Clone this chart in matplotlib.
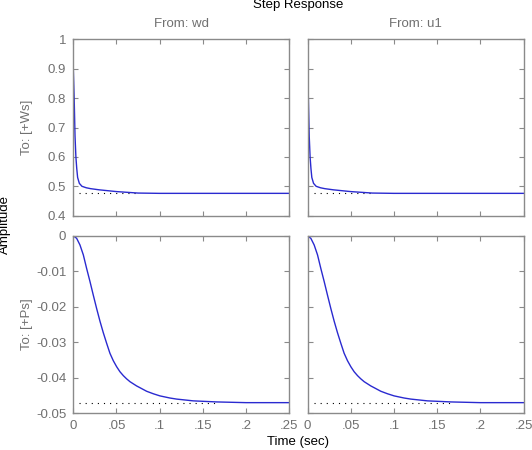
import numpy as np
import matplotlib
matplotlib.use('Agg')
import matplotlib.pyplot as plt

plt.rcParams['font.family'] = ['Liberation Sans', 'DejaVu Sans']

# step response (same for both inputs)
t_ws = [0, 0.0005, 0.001, 0.002, 0.003, 0.004, 0.005, 0.007, 0.01, 0.015, 0.02,
        0.03, 0.04, 0.05, 0.06, 0.075, 0.1, 0.25]
y_ws = [0.90, 0.85, 0.80, 0.67, 0.60, 0.56, 0.53, 0.51, 0.50, 0.495, 0.492,
        0.488, 0.485, 0.482, 0.480, 0.477, 0.476, 0.476]

t_ps = [0, 0.0039, 0.0077, 0.0116, 0.0154, 0.0193, 0.0231, 0.027, 0.0309, 0.0347,
        0.0386, 0.0424, 0.0463, 0.0502, 0.054, 0.0579, 0.0617, 0.0656, 0.0733,
        0.0772, 0.0849, 0.0926, 0.1003, 0.1119, 0.1196, 0.1389, 0.166, 0.2, 0.25]
y_ps = [0, -0.00075, -0.0026, -0.0054, -0.0092, -0.0129, -0.0167, -0.0205,
        -0.0241, -0.0273, -0.0303, -0.0331, -0.0352, -0.0369, -0.0383, -0.0394,
        -0.0403, -0.0411, -0.0423, -0.0428, -0.0438, -0.0445, -0.0451, -0.0457,
        -0.0460, -0.0465, -0.0468, -0.0470, -0.0470]

ss_ws = 0.476
ss_ps = -0.047
ss_ws_span = [0.007, 0.075]
ss_ps_span = [0.007, 0.166]

inputs = ['From: wd', 'From: u1']
outputs = ['To: [+Ws]', 'To: [+Ps]']

x_ticks = [0, 0.05, 0.1, 0.15, 0.2, 0.25]
x_ticklabels = ['0', '.05', '.1', '.15', '.2', '.25']
ws_ticks = [0.4, 0.5, 0.6, 0.7, 0.8, 0.9, 1.0]
ws_ticklabels = ['0.4', '0.5', '0.6', '0.7', '0.8', '0.9', '1']
ps_ticks = [-0.05, -0.04, -0.03, -0.02, -0.01, 0]
ps_ticklabels = ['-0.05', '-0.04', '-0.03', '-0.02', '-0.01', '0']

GRAY = '#707070'
SPINE = '#8a8a8a'
BLUE = '#2a2ad0'
FS = 9.5

W, H = 532, 450
fig = plt.figure(figsize=(W / 100, H / 100), dpi=100)

lefts = [73.3, 307.5]
tops = [39.3, 235.7]
bottoms = [215.7, 413.3]
width = 216

rows = [(t_ws, y_ws, ss_ws, ss_ws_span, (0.4, 1.0), ws_ticks, ws_ticklabels),
        (t_ps, y_ps, ss_ps, ss_ps_span, (-0.05, 0), ps_ticks, ps_ticklabels)]

for r, (t, y, ss, span, ylim, yt, ytl) in enumerate(rows):
    for c in range(2):
        ax = fig.add_axes([lefts[c] / W, 1 - bottoms[r] / H, width / W, (bottoms[r] - tops[r]) / H])
        ax.plot(span, [ss, ss], color='black', linestyle=(0, (1, 4.5)), linewidth=0.8)
        ax.plot(t, y, color=BLUE, linewidth=1.0)
        ax.set_xlim(0, 0.25)
        ax.set_ylim(*ylim)
        ax.set_xticks(x_ticks)
        ax.set_yticks(yt)
        if r == 1:
            ax.set_xticklabels(x_ticklabels)
        else:
            ax.set_xticklabels([])
        if c == 0:
            ax.set_yticklabels(ytl)
        else:
            ax.set_yticklabels([])
        ax.tick_params(direction='in', length=3.5, width=0.8, color=SPINE, labelcolor=GRAY,
                       labelsize=FS, top=True, right=True, pad=5)
        for s in ax.spines.values():
            s.set_color(SPINE)
            s.set_linewidth(1.0)

for c in range(2):
    fig.text((lefts[c] + width / 2) / W, 1 - 24 / H, inputs[c], ha='center', va='center',
             color=GRAY, fontsize=FS)
for r in range(2):
    fig.text(27 / W, 1 - (tops[r] + bottoms[r]) / 2 / H, outputs[r], ha='center', va='center',
             rotation=90, color=GRAY, fontsize=FS)

fig.text(298 / W, 1 - 5 / H, 'Step Response', ha='center', va='center', color='black', fontsize=FS)
fig.text(298 / W, 1 - 442 / H, 'Time (sec)', ha='center', va='center', color='black', fontsize=FS)
fig.text(5 / W, 1 - 225 / H, 'Amplitude', ha='center', va='center', rotation=90,
         color='black', fontsize=FS)

fig.savefig('out.png', dpi=100)
